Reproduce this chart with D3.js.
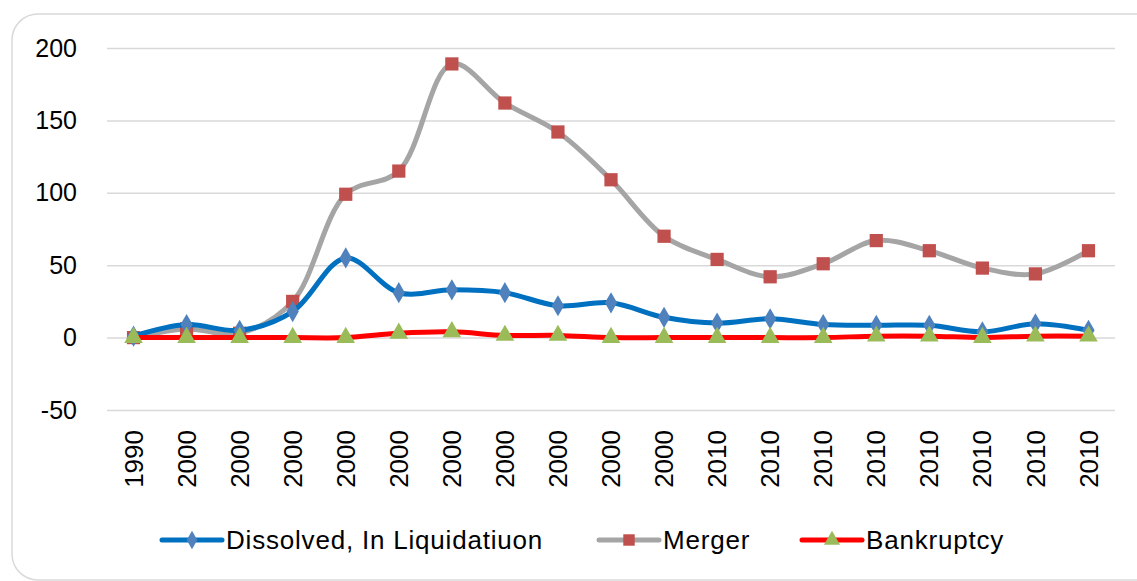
<!DOCTYPE html>
<html>
<head>
<meta charset="utf-8">
<script src="https://cdn.jsdelivr.net/npm/d3@7"></script>
<style>
  body { margin: 0; background: #fff; }
  svg { display: block; font-family: "Liberation Sans", Arial, sans-serif; }
</style>
</head>
<body>
<svg id="chart" width="1137" height="581"></svg>
<script>
// category labels along x
const years = ["1990", "2000", "2000", "2000", "2000", "2000", "2000", "2000", "2000", "2000",
               "2000", "2010", "2010", "2010", "2010", "2010", "2010", "2010", "2010"];

const dissolved  = [1, 9, 5, 18, 55, 31, 33, 31, 22, 24, 14, 10, 13, 9, 8.5, 8.5, 4, 9.5, 5];
const merger     = [0, 6, 3, 25, 99, 115, 189, 162, 142, 109, 70, 54, 42, 51, 67, 60, 48, 44, 60];
const bankruptcy = [0, 0, 0, 0, 0, 3, 4, 1.5, 1.5, 0, 0, 0, 0, 0, 1, 1, 0, 1, 1];

const yTicks = [-50, 0, 50, 100, 150, 200];

let svg = d3.select("#chart");

/* outer frame */
svg.append("rect")
    .attr("x", 12).attr("y", 14)
    .attr("width", 1150).attr("height", 566)
    .attr("rx", 26)
    .style("fill", "none")
    .style("stroke", "#d9d9d9")
    .style("stroke-width", 1.5);

let idx = d3.range(years.length);

/* X scale */
let xScale = d3.scaleBand()
    .domain(idx)
    .range([107, 1115]);
let xMid = i => xScale(i) + xScale.bandwidth() / 2;

/* Y scale */
let yScale = d3.scaleLinear()
    .domain([-50, 200])
    .range([410, 48]);

/* gridlines + y labels */
let yAxis = svg.append("g")
    .attr("transform", "translate(107,0)")
    .call(d3.axisLeft(yScale).tickValues(yTicks).tickFormat(d => String(d)).tickSize(-1008).tickPadding(30));
yAxis.select(".domain").remove();
yAxis.selectAll(".tick line").style("stroke", "#d9d9d9").style("stroke-width", 1.5);
yAxis.selectAll(".tick text")
    .style("font-size", "25px")
    .style("fill", "#000")
    .style("font-family", "'Liberation Sans', Arial, sans-serif");

/* x labels (rotated) */
let xAxis = svg.append("g")
    .attr("transform", "translate(0,410)")
    .call(d3.axisBottom(xScale).tickFormat(i => years[i]).tickSize(0).tickPadding(0));
xAxis.select(".domain").remove();
xAxis.selectAll(".tick text")
    .attr("transform", "rotate(-90)")
    .attr("x", -20).attr("y", 0).attr("dy", "0.35em")
    .style("text-anchor", "end")
    .style("font-size", "26px")
    .style("fill", "#000")
    .style("font-family", "'Liberation Sans', Arial, sans-serif");

let line = d3.line()
    .x((d, i) => xMid(i))
    .y(d => yScale(d))
    .curve(d3.curveCatmullRom.alpha(0.5));

let series = [
    { name: "Merger", data: merger, color: "#a5a5a5", marker: d3.symbolSquare, mcolor: "#c0504d", msize: 175 },
    { name: "Dissolved, In Liquidatiuon", data: dissolved, color: "#0070c0", marker: d3.symbolDiamond, mcolor: "#4f81bd", msize: 130 },
    { name: "Bankruptcy", data: bankruptcy, color: "#ff0000", marker: d3.symbolTriangle, mcolor: "#9bbb59", msize: 150 }
];

series.forEach(s => {
    let g = svg.append("g");
    g.append("path")
        .attr("d", line(s.data))
        .style("fill", "none")
        .style("stroke", s.color)
        .style("stroke-width", 5)
        .style("stroke-linecap", "round")
        .style("stroke-linejoin", "round");
    g.selectAll("path.mk")
        .data(s.data)
        .join("path")
        .attr("class", "mk")
        .attr("d", d3.symbol().type(s.marker).size(s.msize))
        .attr("transform", (d, i) => "translate(" + xMid(i) + "," + yScale(d) + ")")
        .style("fill", s.mcolor);
});

/* legend */
let legendItems = [series[1], series[0], series[2]];
let legendX = [162, 599, 802];
let legend = svg.append("g");
legendItems.forEach((s, k) => {
    let lg = legend.append("g").attr("transform", "translate(" + legendX[k] + ",540)");
    lg.append("line")
        .attr("x1", 0).attr("x2", 60)
        .style("stroke", s.color)
        .style("stroke-width", 5)
        .style("stroke-linecap", "round");
    lg.append("path")
        .attr("d", d3.symbol().type(s.marker).size(s.msize * 0.75))
        .attr("transform", "translate(30,0)")
        .style("fill", s.mcolor);
    lg.append("text")
        .attr("x", 64).attr("dy", "0.36em")
        .style("font-size", "26px")
        .style("letter-spacing", "0.8px")
        .style("fill", "#000")
        .text(s.name);
});
</script>
</body>
</html>
